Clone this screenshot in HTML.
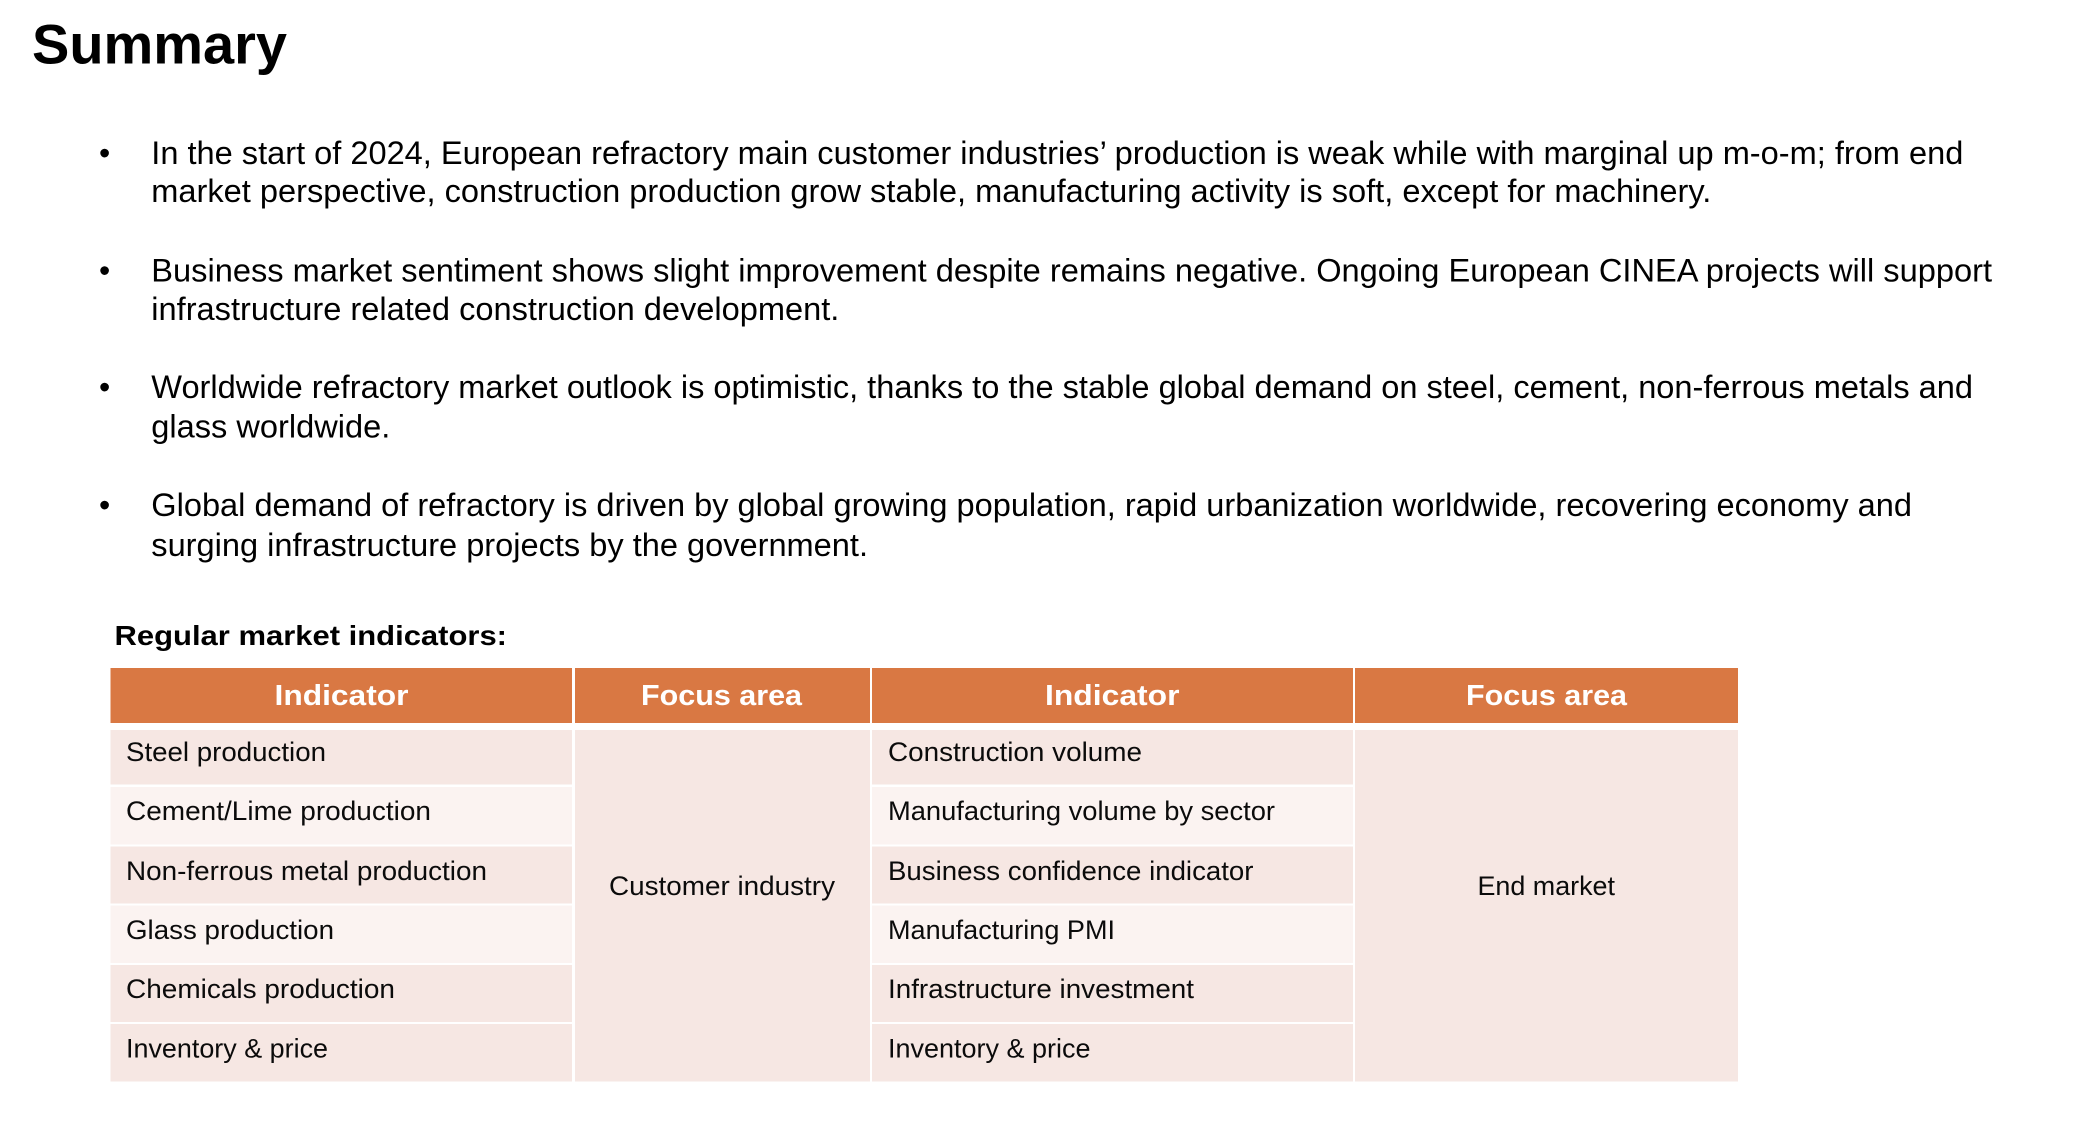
<!DOCTYPE html>
<html lang="en">
<head>
<meta charset="utf-8">
<title>Summary</title>
<style>
html,body{margin:0;padding:0;background:#fff;width:2094px;height:1128px;overflow:hidden}
svg{display:block;font-family:"Liberation Sans",Arial,sans-serif}
.b{font-size:32px;fill:#000}
.c{font-size:26.5px;fill:#0b0b0b}
.h{font-size:29px;font-weight:700;fill:#fff}
.d{fill:#F6E7E3}
.l{fill:#FBF3F1}
.o{fill:#D97843}
</style>
</head>
<body>
<svg width="2094" height="1128" viewBox="0 0 2094 1128" xmlns="http://www.w3.org/2000/svg">
<text x="32" y="63.5" font-size="56" font-weight="700" fill="#000" textLength="255" lengthAdjust="spacingAndGlyphs">Summary</text>

<g>
<g>
<text class="b" x="99" y="164">•</text>
<text class="b" x="151.3" y="164" textLength="1812" lengthAdjust="spacingAndGlyphs">In the start of 2024, European refractory main customer industries’ production is weak while with marginal up m-o-m; from end</text>
<text class="b" x="151.3" y="202" textLength="1560" lengthAdjust="spacingAndGlyphs">market perspective, construction production grow stable, manufacturing activity is soft, except for machinery.</text>
</g>
<g>
<text class="b" x="99" y="281.5">•</text>
<text class="b" x="151.3" y="281.5" textLength="1840.7" lengthAdjust="spacingAndGlyphs">Business market sentiment shows slight improvement despite remains negative. Ongoing European CINEA projects will support</text>
<text class="b" x="151.3" y="320" textLength="688" lengthAdjust="spacingAndGlyphs">infrastructure related construction development.</text>
</g>
<g>
<text class="b" x="99" y="398">•</text>
<text class="b" x="151.3" y="398" textLength="1821.7" lengthAdjust="spacingAndGlyphs">Worldwide refractory market outlook is optimistic, thanks to the stable global demand on steel, cement, non-ferrous metals and</text>
<text class="b" x="151.3" y="437.5" textLength="239" lengthAdjust="spacingAndGlyphs">glass worldwide.</text>
</g>
<g>
<text class="b" x="99" y="516">•</text>
<text class="b" x="151.3" y="516" textLength="1760.7" lengthAdjust="spacingAndGlyphs">Global demand of refractory is driven by global growing population, rapid urbanization worldwide, recovering economy and</text>
<text class="b" x="151.3" y="556" textLength="716.7" lengthAdjust="spacingAndGlyphs">surging infrastructure projects by the government.</text>
</g>
</g>

<text x="114.5" y="645" font-size="28" font-weight="700" fill="#000" textLength="392.5" lengthAdjust="spacingAndGlyphs">Regular market indicators:</text>

<g>
<g>
<rect class="o" x="110.5" y="668" width="461.5" height="55"/>
<rect class="o" x="575" y="668" width="295" height="55"/>
<rect class="o" x="872" y="668" width="481" height="55"/>
<rect class="o" x="1355" y="668" width="383" height="55"/>
<text class="h" x="274.5" y="705" textLength="134" lengthAdjust="spacingAndGlyphs">Indicator</text>
<text class="h" x="641" y="705" textLength="161" lengthAdjust="spacingAndGlyphs">Focus area</text>
<text class="h" x="1045" y="705" textLength="134.5" lengthAdjust="spacingAndGlyphs">Indicator</text>
<text class="h" x="1466" y="705" textLength="161" lengthAdjust="spacingAndGlyphs">Focus area</text>
</g>

<g>
<rect class="d" x="110.5" y="730" width="461.5" height="54.5"/>
<rect class="l" x="110.5" y="787" width="461.5" height="57.5"/>
<rect class="d" x="110.5" y="846.5" width="461.5" height="57"/>
<rect class="l" x="110.5" y="905.5" width="461.5" height="57.5"/>
<rect class="d" x="110.5" y="965" width="461.5" height="57"/>
<rect class="d" x="110.5" y="1024" width="461.5" height="57.5"/>
<text class="c" x="126" y="761" textLength="200" lengthAdjust="spacingAndGlyphs">Steel production</text>
<text class="c" x="126" y="820" textLength="305" lengthAdjust="spacingAndGlyphs">Cement/Lime production</text>
<text class="c" x="126" y="880" textLength="361" lengthAdjust="spacingAndGlyphs">Non-ferrous metal production</text>
<text class="c" x="126" y="939" textLength="208" lengthAdjust="spacingAndGlyphs">Glass production</text>
<text class="c" x="126" y="998" textLength="269" lengthAdjust="spacingAndGlyphs">Chemicals production</text>
<text class="c" x="126" y="1057.5" textLength="202" lengthAdjust="spacingAndGlyphs">Inventory &amp; price</text>
</g>

<g>
<rect class="d" x="575" y="730" width="295" height="351.5"/>
<text class="c" x="609" y="895" textLength="226" lengthAdjust="spacingAndGlyphs">Customer industry</text>
</g>

<g>
<rect class="d" x="872" y="730" width="481" height="54.5"/>
<rect class="l" x="872" y="787" width="481" height="57.5"/>
<rect class="d" x="872" y="846.5" width="481" height="57"/>
<rect class="l" x="872" y="905.5" width="481" height="57.5"/>
<rect class="d" x="872" y="965" width="481" height="57"/>
<rect class="d" x="872" y="1024" width="481" height="57.5"/>
<text class="c" x="888" y="761" textLength="254" lengthAdjust="spacingAndGlyphs">Construction volume</text>
<text class="c" x="888" y="820" textLength="387" lengthAdjust="spacingAndGlyphs">Manufacturing volume by sector</text>
<text class="c" x="888" y="880" textLength="365.5" lengthAdjust="spacingAndGlyphs">Business confidence indicator</text>
<text class="c" x="888" y="939" textLength="227" lengthAdjust="spacingAndGlyphs">Manufacturing PMI</text>
<text class="c" x="888" y="998" textLength="306" lengthAdjust="spacingAndGlyphs">Infrastructure investment</text>
<text class="c" x="888" y="1057.5" textLength="202.5" lengthAdjust="spacingAndGlyphs">Inventory &amp; price</text>
</g>

<g>
<rect class="d" x="1355" y="730" width="383" height="351.5"/>
<text class="c" x="1477.5" y="895" textLength="137.5" lengthAdjust="spacingAndGlyphs">End market</text>
</g>
</g>
</svg>
</body>
</html>
